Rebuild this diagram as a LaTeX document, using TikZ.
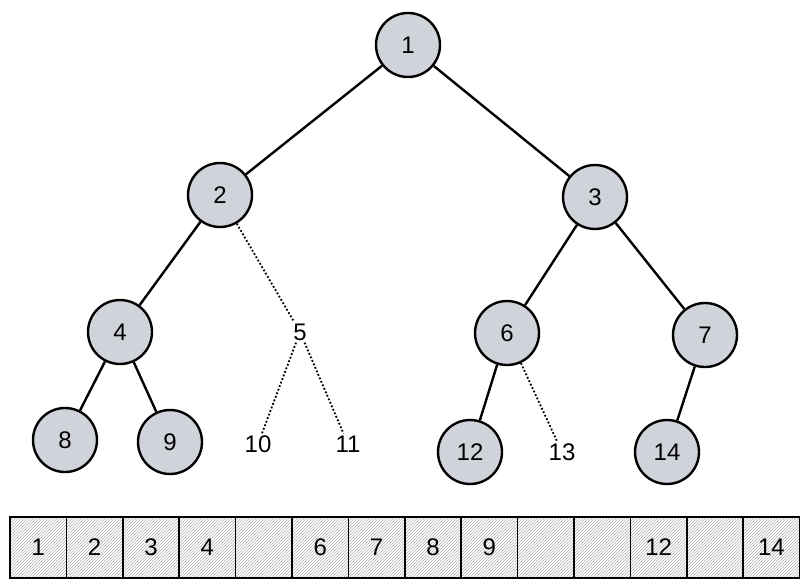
\documentclass[tikz,border=0pt]{standalone}
\usepackage{fontspec}
\setmainfont{Liberation Sans}
\usetikzlibrary{patterns}
\tikzstyle{full} = [circle, draw, line width=2.4pt, fill={rgb,255:red,208;green,211;blue,218}, minimum size=64pt, inner sep=0pt, font=\fontsize{24}{28}\selectfont]
\tikzstyle{gap} = [inner sep=2pt, font=\fontsize{24}{28}\selectfont]
\tikzstyle{cell} = [draw, line width=1.5pt, pattern=north east lines, pattern color=gray!60, minimum width=56.4pt, minimum height=61pt, inner sep=0pt, font=\fontsize{24}{28}\selectfont]

\begin{document}
\begin{tikzpicture}[x=1pt,y=-1pt]
  \useasboundingbox (0,0) rectangle (810,588);
  \node (n1) at (408,45) [full] {1};
  \node (n2) at (220,195) [full] {2};
  \node (n3) at (595,197) [full] {3};
  \node (n4) at (120,332) [full] {4};
  \node (n5) at (300,332) [gap] {5};
  \node (n6) at (507,333) [full] {6};
  \node (n7) at (705,335) [full] {7};
  \node (n8) at (65,440) [full] {8};
  \node (n9) at (170,442) [full] {9};
  \node (n10) at (258,444) [gap] {10};
  \node (n11) at (348,444) [gap] {11};
  \node (n12) at (470,452) [full] {12};
  \node (n13) at (562,452) [gap] {13};
  \node (n14) at (667,452) [full] {14};
  \draw [line width=2.4pt] (n1) -- (n2);
  \draw [line width=2.4pt] (n1) -- (n3);
  \draw [line width=2.4pt] (n2) -- (n4);
  \draw [line width=2.4pt] (n3) -- (n6);
  \draw [line width=2.4pt] (n3) -- (n7);
  \draw [line width=2.4pt] (n4) -- (n8);
  \draw [line width=2.4pt] (n4) -- (n9);
  \draw [line width=2.4pt] (n6) -- (n12);
  \draw [line width=2.4pt] (n7) -- (n14);
  \draw [line width=1.8pt, dotted] (n2) -- (n5);
  \draw [line width=1.8pt, dotted] (n5) -- (n10);
  \draw [line width=1.8pt, dotted] (n5) -- (n11);
  \draw [line width=1.8pt, dotted] (n6) -- (n13);
  % array
  \foreach \v [count=\i from 0] in {1,2,3,4,,6,7,8,9,,,12,,14}
    \node (c\i) at (38.2+56.4*\i,547.5) [cell] {\v};
\end{tikzpicture}
\end{document}
